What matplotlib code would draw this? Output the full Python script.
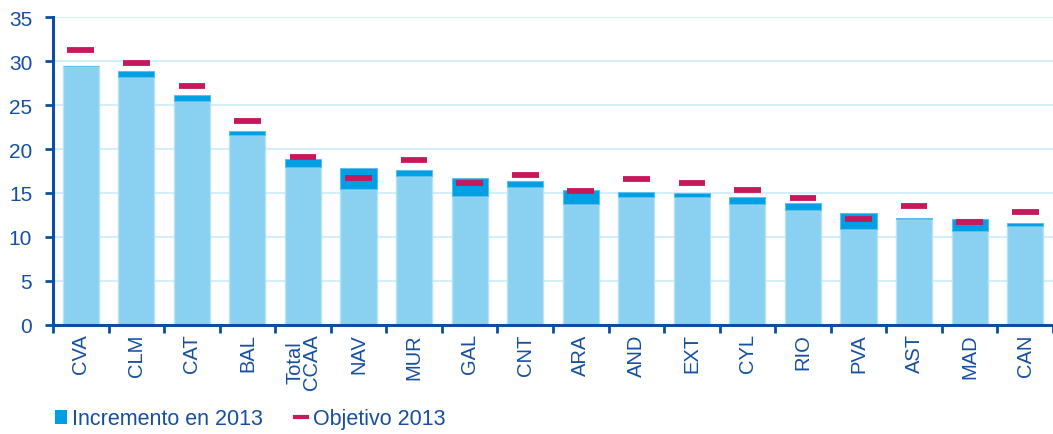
import numpy as np
import matplotlib
matplotlib.use("Agg")
import matplotlib.pyplot as plt
from matplotlib.lines import Line2D
from matplotlib.patches import Patch

# data
regions = ["CVA", "CLM", "CAT", "BAL", "Total\nCCAA", "NAV", "MUR", "GAL", "CNT",
           "ARA", "AND", "EXT", "CYL", "RIO", "PVA", "AST", "MAD", "CAN"]
base_2012 = [29.4, 28.2, 25.4, 21.6, 17.9, 15.5, 16.9, 14.65, 15.65,
             13.7, 14.55, 14.55, 13.8, 13.05, 10.95, 12.1, 10.65, 11.25]
total_2013 = [29.4, 28.85, 26.15, 22.1, 18.85, 17.85, 17.65, 16.7, 16.4,
              15.35, 15.1, 15.0, 14.6, 13.9, 12.75, 12.15, 12.0, 11.6]
objetivo_2013 = [31.2, 29.8, 27.2, 23.2, 19.05, 16.7, 18.7, 16.1, 17.1,
                 15.2, 16.55, 16.1, 15.3, 14.4, 12.1, 13.5, 11.75, 12.8]

light_blue = "#8ad0f0"
inc_blue = "#009fe3"
target_red = "#c8185c"
dark_blue = "#164f9f"
spine_blue = "#0d4ea0"
grid_blue = "#d3effb"

plt.rcParams["font.family"] = ["Liberation Sans", "DejaVu Sans"]

fig = plt.figure(figsize=(10.53, 4.35), dpi=100)
ax = fig.add_axes([0.0503, 0.2506, 0.9497, 0.708])

x = np.arange(len(regions))
base = np.array(base_2012)
inc = np.array(total_2013) - base

ax.bar(x, base, width=0.65, color=light_blue, edgecolor="#b8e3f7", linewidth=1, zorder=2)
ax.bar(x, inc, width=0.65, bottom=base, color=inc_blue, edgecolor="#5cc0ec", linewidth=0.8, zorder=2)
ax.hlines(objetivo_2013, x - 0.24, x + 0.24, color=target_red, linewidth=4.2, zorder=3)

ax.set_xlim(-0.5, len(regions) - 0.5)
ax.set_ylim(0, 35)
ax.set_yticks(range(0, 36, 5))
ax.yaxis.grid(True, color=grid_blue, linewidth=1.5, zorder=0)
ax.set_axisbelow(True)

ax.set_xticks(x)
ax.set_xticklabels(regions, rotation=90, fontsize=14.5, color=dark_blue,
                   linespacing=0.85)
ax.set_xticks(np.arange(-0.5, len(regions), 1), minor=True)
ax.tick_params(axis="x", which="major", length=0, pad=6)
ax.tick_params(axis="x", which="minor", length=6, width=2, color=spine_blue, direction="out")
ax.tick_params(axis="y", length=6, width=2, color=spine_blue, labelsize=15,
               labelcolor=dark_blue, pad=9)

for s in ["top", "right"]:
    ax.spines[s].set_visible(False)
for s in ["left", "bottom"]:
    ax.spines[s].set_color(spine_blue)
    ax.spines[s].set_linewidth(2.2)

handles = [Patch(facecolor=inc_blue, edgecolor="none"),
           Line2D([0], [0], color=target_red, linewidth=3)]
fig.legend(handles, ["Incremento en 2013", "Objetivo 2013"], loc="center left",
           bbox_to_anchor=(0.038, 0.035), ncol=2, frameon=False, fontsize=15.5,
           labelcolor=dark_blue, handlelength=0.55, handletextpad=0.25,
           columnspacing=1.5, handleheight=0.6, borderpad=0.2)

fig.savefig("out.png", dpi=100)
